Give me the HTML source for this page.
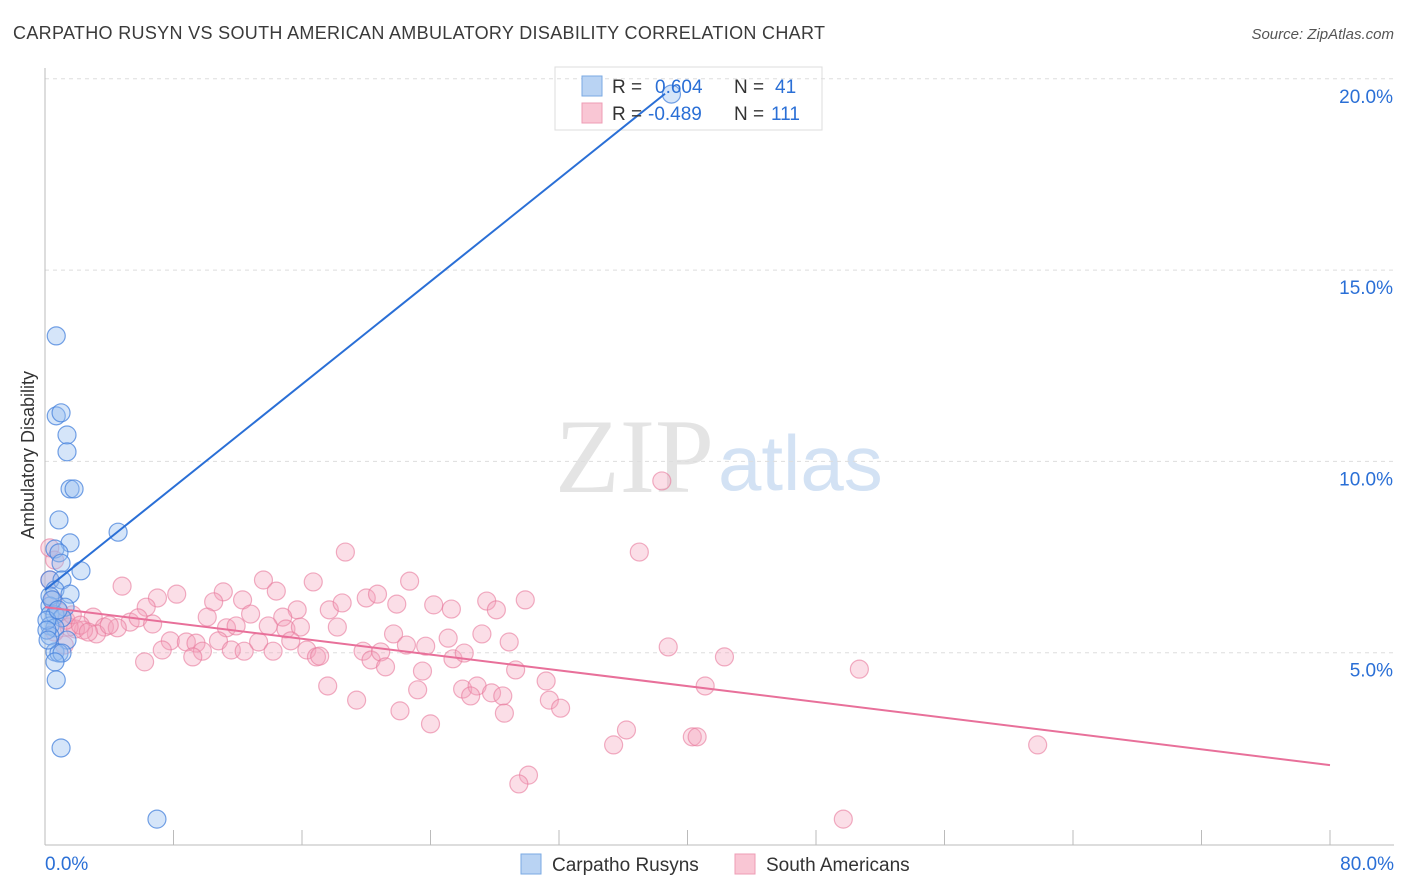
<!DOCTYPE html>
<html><head><meta charset="utf-8"><style>
body{margin:0;background:#fff;font-family:"Liberation Sans",sans-serif;}
svg{display:block}
</style></head><body>
<svg id="chart" width="1406" height="892">
<text x="13" y="39" font-size="18" fill="#3a3a3a" textLength="812">CARPATHO RUSYN VS SOUTH AMERICAN AMBULATORY DISABILITY CORRELATION CHART</text>
<text x="1394" y="39" font-size="15" fill="#555" text-anchor="end" font-style="italic">Source: ZipAtlas.com</text>
<text x="714" y="492" font-size="106" fill="#e4e4e4" text-anchor="end" font-family="Liberation Serif">ZIP</text>
<text x="718" y="490" font-size="78" fill="#d3e2f4">atlas</text>
<text transform="translate(34,455) rotate(-90)" font-size="18" fill="#333" text-anchor="middle">Ambulatory Disability</text>
<rect x="555" y="67" width="267" height="63" fill="#fff" stroke="#ddd"/>
<g id="grid"></g><g id="marks"></g><g id="lines"></g>
<g>
<rect x="582" y="76" width="20" height="20" fill="#b9d3f3" stroke="#7aa9e3"/>
<rect x="582" y="103" width="20" height="20" fill="#f9c6d4" stroke="#ee9cb5"/>
<text x="612" y="93" font-size="19" fill="#333">R = <tspan x="655" fill="#2a6fd6">0.604</tspan><tspan x="734">N = </tspan><tspan x="775" fill="#2a6fd6">41</tspan></text>
<text x="612" y="120" font-size="19" fill="#333">R = <tspan x="648" fill="#2a6fd6">-0.489</tspan><tspan x="734">N = </tspan><tspan x="771" fill="#2a6fd6">111</tspan></text>
</g>
<g>
<rect x="521" y="854" width="20" height="20" fill="#b9d3f3" stroke="#7aa9e3"/>
<text x="552" y="871" font-size="19" fill="#333">Carpatho Rusyns</text>
<rect x="735" y="854" width="20" height="20" fill="#f9c6d4" stroke="#ee9cb5"/>
<text x="766" y="871" font-size="19" fill="#333">South Americans</text>
</g>
</svg>
<script>
const yTicks=[5,10,15,20];
const yTickLabels=["5.0%","10.0%","15.0%","20.0%"];
const xTickLabels=["0.0%","80.0%"];
const blueX=[0.7,0.7,1.0,1.37,1.37,1.56,1.81,0.87,1.56,0.62,0.87,1.0,2.24,4.55,0.31,1.06,0.62,1.56,0.31,1.25,0.31,0.62,1.06,0.31,0.62,1.37,0.31,0.62,0.87,1.06,0.62,0.7,1.0,6.97,39.0,0.31,0.12,0.12,0.44,0.81,0.19];
const blueY=[13.28,11.19,11.27,10.69,10.25,9.28,9.28,8.47,7.87,7.71,7.61,7.34,7.14,8.15,6.9,6.9,6.64,6.53,6.22,6.19,5.99,5.99,5.91,5.7,5.65,5.33,5.44,5.02,4.99,4.99,4.76,4.29,2.51,0.65,19.6,6.48,5.85,5.59,6.38,6.12,5.33];
const pinkX=[38.4,37.0,18.7,4.8,8.2,7.0,13.6,14.4,16.7,11.1,10.5,12.3,6.3,10.1,12.8,15.7,14.8,17.7,18.5,20.0,20.7,21.9,22.7,24.2,25.3,27.5,28.1,29.9,3.0,3.7,5.3,5.8,6.7,4.5,3.2,2.4,1.9,1.5,7.8,8.8,9.4,11.3,11.9,10.8,9.8,7.3,9.2,6.2,11.6,12.4,13.3,13.9,15.0,15.9,15.3,14.2,16.3,16.9,17.1,18.2,19.8,20.3,20.9,21.7,22.5,21.2,23.7,25.1,25.4,26.1,27.2,28.9,29.3,23.5,17.6,23.2,26.0,26.9,27.8,26.5,28.5,31.2,31.4,32.1,19.4,22.1,28.6,24.0,36.2,35.4,40.3,40.6,30.1,29.5,38.8,42.3,41.1,50.7,61.8,49.7,0.3,0.6,0.3,0.5,0.9,1.3,1.7,2.2,2.7,4.0,1.2,0.6];
const pinkY=[9.49,7.63,7.63,6.74,6.53,6.43,6.9,6.61,6.85,6.59,6.33,6.38,6.19,5.93,6.01,6.12,5.93,6.12,6.30,6.43,6.53,6.27,6.87,6.25,6.14,6.35,6.12,6.38,5.93,5.67,5.80,5.91,5.75,5.65,5.49,5.59,5.62,5.67,5.31,5.28,5.25,5.65,5.70,5.31,5.04,5.07,4.89,4.76,5.07,5.04,5.28,5.70,5.62,5.67,5.31,5.04,5.07,4.89,4.91,5.67,5.04,4.81,5.02,5.49,5.20,4.63,5.17,5.38,4.84,4.99,5.49,5.28,4.55,4.52,4.13,4.03,4.05,4.13,3.95,3.87,3.87,4.26,3.76,3.55,3.76,3.48,3.42,3.14,2.98,2.59,2.80,2.80,1.80,1.57,5.15,4.89,4.13,4.57,2.59,0.65,7.74,7.42,6.9,6.38,6.06,5.85,5.99,5.72,5.54,5.72,5.2,5.54];
const blueFit=[6.64,0.336];
const pinkFit=[6.19,-0.0516];
const NS="http://www.w3.org/2000/svg";
const X=v=>45+v*1285/80, Y=v=>844-v*38.26;
function mk(tag,attrs,parent){const e=document.createElementNS(NS,tag);for(const k in attrs)e.setAttribute(k,attrs[k]);parent.appendChild(e);return e;}
const grid=document.getElementById('grid'),marks=document.getElementById('marks'),lines=document.getElementById('lines');
yTicks.forEach((t,i)=>{
 const l=mk('line',{x1:45,x2:1394,y1:Y(t),y2:Y(t),stroke:'#ddd','stroke-dasharray':'4,4'},grid);
 
 
 const tx=mk('text',{x:1393,y:Y(t)+24,'font-size':19,fill:'#2a6fd6','text-anchor':'end'},grid);
 tx.textContent=yTickLabels[i];
 
 
});
mk('line',{x1:45,x2:45,y1:68,y2:845,stroke:'#bbb'},grid);
mk('line',{x1:45,x2:1394,y1:845,y2:845,stroke:'#bbb'},grid);
for(let v=8;v<=80;v+=8){const t=mk('line',{x1:X(v),x2:X(v),y1:830,y2:845,stroke:'#bbb'},grid);
 
 }
[[0,'start',45],[80,'end',1394]].forEach((a,i)=>{const tx=mk('text',{x:a[2],y:870,'font-size':19,fill:'#2a6fd6','text-anchor':a[1]},grid);tx.textContent=xTickLabels[i];
 
 });
pinkX.forEach((x,i)=>{const c=mk('circle',{cx:X(x),cy:Y(pinkY[i]),r:9,fill:'rgba(244,160,186,0.35)',stroke:'rgba(232,120,155,0.6)','stroke-width':1.2},marks);
 
 });
blueX.forEach((x,i)=>{const c=mk('circle',{cx:X(x),cy:Y(blueY[i]),r:9,fill:'rgba(150,190,240,0.4)',stroke:'rgba(70,130,220,0.75)','stroke-width':1.2},marks);
 
 });
const bl=mk('line',{x1:X(0),y1:Y(blueFit[0]),x2:X(38.6),y2:Y(blueFit[0]+blueFit[1]*38.6),stroke:'#2a6fd6','stroke-width':2},lines);


const pl=mk('line',{x1:X(0),y1:Y(pinkFit[0]),x2:X(80),y2:Y(pinkFit[0]+pinkFit[1]*80),stroke:'#e8709a','stroke-width':2},lines);


</script>
</body></html>
